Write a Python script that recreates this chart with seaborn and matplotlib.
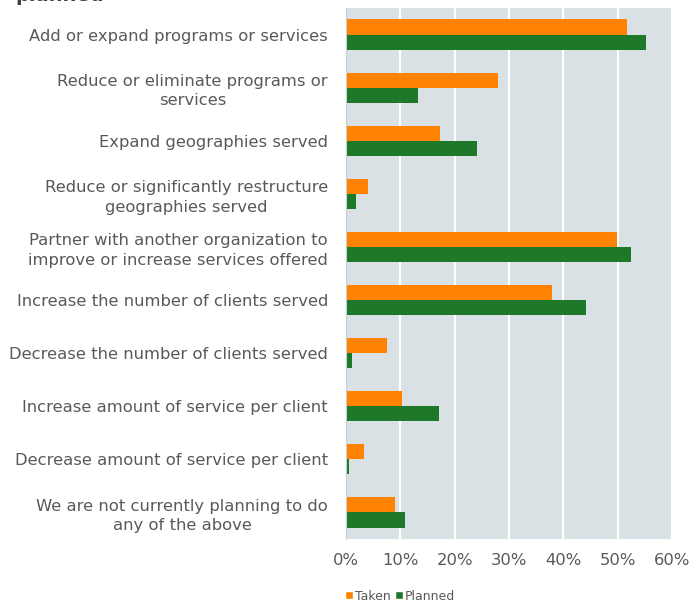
import matplotlib
matplotlib.use("Agg")
import matplotlib.pyplot as plt
import seaborn as sns
import pandas as pd
from matplotlib.ticker import PercentFormatter
from matplotlib.patches import Patch

categories = [
    "Add or expand programs or services",
    "Reduce or eliminate programs or\nservices",
    "Expand geographies served",
    "Reduce or significantly restructure\ngeographies served",
    "Partner with another organization to\nimprove or increase services offered",
    "Increase the number of clients served",
    "Decrease the number of clients served",
    "Increase amount of service per client",
    "Decrease amount of service per client",
    "We are not currently planning to do\nany of the above",
]
taken = [51.7, 27.9, 17.3, 4.1, 49.8, 37.9, 7.6, 10.3, 3.3, 9.0]
planned = [55.2, 13.3, 24.1, 1.9, 52.5, 44.1, 1.1, 17.1, 0.6, 10.9]
series = ["Taken", "Planned"]
colors = ["#FF8200", "#1E782A"]
xticks = [0, 10, 20, 30, 40, 50, 60]

df = pd.DataFrame({
    "category": categories * 2,
    "value": taken + planned,
    "series": ["Taken"] * len(categories) + ["Planned"] * len(categories),
})

sns.set_theme(style="white")
plt.rcParams["font.family"] = ["DejaVu Sans"]
text_color = "#595959"

fig = plt.figure(figsize=(6.92, 6.03), dpi=100)
ax = fig.add_axes([346 / 692, 1 - 539 / 603, (672 - 346) / 692, (539 - 8) / 603])
ax.set_facecolor("#D9E1E4")

sns.barplot(data=df, y="category", x="value", hue="series", hue_order=series,
            palette=colors, orient="h", width=0.57, ax=ax, saturation=1,
            legend=False, linewidth=0)

ax.set_xlim(0, 60)
ax.set_xticks(xticks)
ax.xaxis.set_major_formatter(PercentFormatter(decimals=0))
ax.grid(axis="x", color="white", linewidth=1.5)
ax.set_axisbelow(True)
for s in ["top", "right", "bottom"]:
    ax.spines[s].set_visible(False)
ax.spines["left"].set_color("#C8CFD2")
ax.spines["left"].set_linewidth(0.8)
ax.set_xlabel("")
ax.set_ylabel("")
ax.tick_params(axis="x", length=0, pad=10, labelsize=11.8, labelcolor=text_color)
ax.tick_params(axis="y", length=0, pad=13, labelsize=11.8, labelcolor=text_color)
for lbl in ax.get_yticklabels():
    lbl.set_multialignment("center")
    lbl.set_linespacing(1.35)

handles = [Patch(facecolor=c, label=s) for c, s in zip(colors, series)]
fig.legend(handles=handles, loc="center", bbox_to_anchor=(400 / 692, 1 - 596 / 603),
           ncol=2, frameon=False, fontsize=9, handlelength=0.6, handleheight=0.6,
           handletextpad=0.15, columnspacing=0.4, labelcolor=text_color)

fig.text(15 / 692, 1 - 1 / 603, "planned", fontsize=14, fontweight="bold",
         color="#404040", ha="left", va="baseline")

fig.savefig("out.png", dpi=100)
